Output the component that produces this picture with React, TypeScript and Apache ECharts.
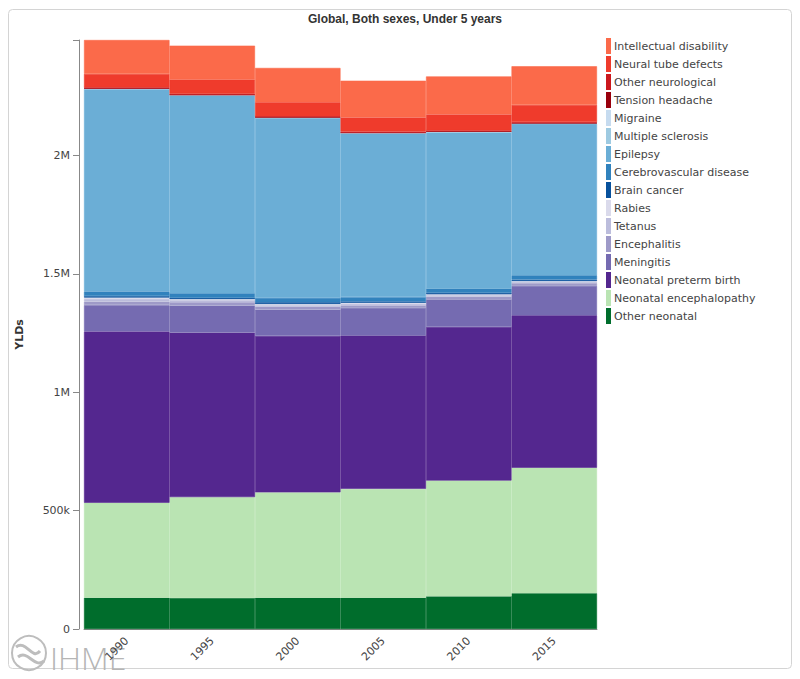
import React, { useEffect, useRef } from "react";
import * as echarts from "echarts";

const years = ["1990", "1995", "2000", "2005", "2010", "2015"];
const yTickLabels: Record<number, string> = { 0: "0", 500000: "500k", 1000000: "1M", 1500000: "1.5M", 2000000: "2M" };

// bottom-up stack order
const otherNeonatal = [132000, 131000, 132000, 132000, 138000, 151000];
const neonatalEncephalopathy = [401000, 426000, 445000, 460000, 489000, 530000];
const neonatalPreterm = [724000, 695000, 661000, 648000, 649000, 644000];
const meningitis = [111000, 114000, 111000, 116000, 116000, 124000];
const encephalitis = [15000, 14000, 12000, 11000, 12000, 12000];
const tetanus = [11000, 9000, 7000, 6000, 6000, 5000];
const rabies = [6000, 5000, 5000, 5000, 4000, 4000];
const brainCancer = [6000, 5000, 7000, 6000, 6000, 6000];
const cerebrovascular = [20000, 19000, 18000, 18000, 18000, 18000];
const epilepsy = [855000, 836000, 761000, 692000, 661000, 640000];
const multipleSclerosis = [500, 500, 500, 500, 500, 500];
const migraine = [1500, 1500, 1500, 1500, 1500, 1500];
const tensionHeadache = [1000, 1000, 1000, 1000, 1000, 1000];
const otherNeurological = [4000, 4000, 4000, 4000, 4000, 4000];
const neuralTube = [57000, 60000, 59000, 60000, 68000, 73000];
const intellectualDisability = [143000, 143000, 145000, 155000, 160000, 163000];

const seriesDefs: { name: string; data: number[]; color: string }[] = [
  { name: "Other neonatal", data: otherNeonatal, color: "#006d2c" },
  { name: "Neonatal encephalopathy", data: neonatalEncephalopathy, color: "#bae4b3" },
  { name: "Neonatal preterm birth", data: neonatalPreterm, color: "#54278f" },
  { name: "Meningitis", data: meningitis, color: "#756bb1" },
  { name: "Encephalitis", data: encephalitis, color: "#9e9ac8" },
  { name: "Tetanus", data: tetanus, color: "#bcbddc" },
  { name: "Rabies", data: rabies, color: "#dadaeb" },
  { name: "Brain cancer", data: brainCancer, color: "#08519c" },
  { name: "Cerebrovascular disease", data: cerebrovascular, color: "#3182bd" },
  { name: "Epilepsy", data: epilepsy, color: "#6baed6" },
  { name: "Multiple sclerosis", data: multipleSclerosis, color: "#9ecae1" },
  { name: "Migraine", data: migraine, color: "#c6dbef" },
  { name: "Tension headache", data: tensionHeadache, color: "#99000d" },
  { name: "Other neurological", data: otherNeurological, color: "#cb181d" },
  { name: "Neural tube defects", data: neuralTube, color: "#ef3b2c" },
  { name: "Intellectual disability", data: intellectualDisability, color: "#fb6a4a" },
];

const FONT = "DejaVu Sans";

export default function App() {
  const ref = useRef<HTMLDivElement>(null);
  useEffect(() => {
    document.body.style.margin = "0";
    if (!ref.current) return;
    const chart = echarts.init(ref.current, undefined, { renderer: "svg" });
    const totals = years.map((_, i) => seriesDefs.reduce((s, d) => s + d.data[i], 0));
    const maxTotal = Math.max(...totals);
    const axisColor = "#888888";
    chart.setOption({
      animation: false,
      backgroundColor: "#ffffff",
      title: {
        text: "Global, Both sexes, Under 5 years",
        left: 400,
        textAlign: "center",
        top: 8,
        textStyle: { fontFamily: "Liberation Sans", fontSize: 12, fontWeight: "bold", color: "#333" },
      },
      legend: {
        orient: "vertical",
        left: 606,
        top: 38,
        padding: 0,
        icon: "rect",
        itemWidth: 3,
        itemHeight: 14,
        itemGap: 2,
        selectedMode: false,
        data: seriesDefs.map((d) => d.name).reverse(),
        textStyle: { fontFamily: FONT, fontSize: 11, color: "#444", padding: [0, 0, 0, -1] },
      },
      grid: { left: 84, right: 203, top: 40, bottom: 50 },
      xAxis: [
        {
          type: "category",
          data: years,
          offset: 4,
          axisLine: { lineStyle: { color: axisColor } },
          axisTick: { alignWithLabel: true, length: 6, lineStyle: { color: axisColor } },
          axisLabel: { rotate: 45, fontFamily: FONT, fontSize: 11, color: "#444", margin: 6 },
        },
        {
          type: "category",
          data: [""],
          position: "bottom",
          offset: 4,
          axisLine: { show: false },
          axisTick: { length: 6, lineStyle: { color: axisColor } },
          axisLabel: { show: false },
        },
      ],
      yAxis: {
        type: "value",
        min: 0,
        max: maxTotal,
        interval: 500000,
        offset: 5,
        name: "YLDs",
        nameLocation: "middle",
        nameGap: 54,
        nameTextStyle: { fontFamily: FONT, fontSize: 11, fontWeight: "bold", color: "#333" },
        axisLine: { show: true, lineStyle: { color: axisColor } },
        axisTick: { show: true, length: 6, lineStyle: { color: axisColor } },
        splitLine: { show: false },
        axisLabel: {
          fontFamily: FONT,
          fontSize: 11,
          color: "#444",
          margin: 9,
          formatter: (v: number) => (yTickLabels[v] !== undefined ? yTickLabels[v] : ""),
        },
      },
      series: seriesDefs.map((d) => ({
        name: d.name,
        type: "bar",
        stack: "total",
        data: d.data,
        barCategoryGap: "0%",
        itemStyle: { color: d.color, borderColor: d.color, borderWidth: 0.6 },
        emphasis: { disabled: true },
      })),
      graphic: [
        {
          type: "rect",
          shape: { x: 8.5, y: 9.5, width: 783, height: 659, r: 4 },
          style: { fill: "none", stroke: "#d4d4d4", lineWidth: 1 },
          z: -10,
          silent: true,
        },
        {
          type: "group",
          z: 100,
          silent: true,
          children: [
            {
              type: "circle",
              shape: { cx: 29, cy: 653, r: 17 },
              style: { fill: "none", stroke: "#bdbdbd", lineWidth: 2 },
            },
            {
              type: "bezierCurve",
              shape: { x1: 16, y1: 647, x2: 40, y2: 651, cpx1: 26, cpy1: 639, cpx2: 32, cpy2: 661 },
              style: { fill: "none", stroke: "#bdbdbd", lineWidth: 3 },
            },
            {
              type: "bezierCurve",
              shape: { x1: 18, y1: 657, x2: 44, y2: 661, cpx1: 28, cpy1: 649, cpx2: 34, cpy2: 669 },
              style: { fill: "none", stroke: "#bdbdbd", lineWidth: 3 },
            },
            {
              type: "text",
              x: 50,
              y: 657,
              style: {
                text: "IHME",
                fontFamily: "Open Sans",
                fontWeight: 300,
                fontSize: 32,
                fill: "#b5b5b5",
                textVerticalAlign: "middle",
              },
            },
          ],
        },
      ],
    });
    return () => chart.dispose();
  }, []);
  return <div ref={ref} style={{ position: "absolute", left: 0, top: 0, width: 800, height: 679 }} />;
}
